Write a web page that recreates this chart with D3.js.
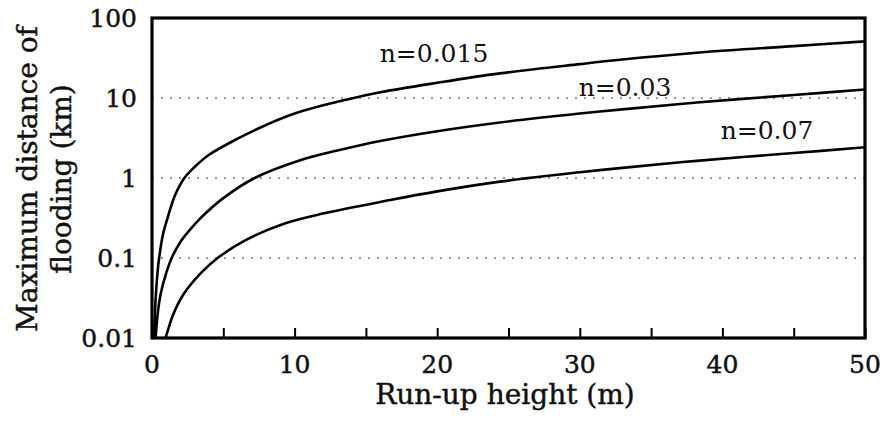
<!DOCTYPE html>
<html>
  <head>
    <meta charset="utf-8">
    <title>Flooding distance</title>
    <script src="https://cdn.jsdelivr.net/npm/d3@7"></script>
    <style>
      body { margin: 0; background: #fff; }
      svg text { font-family: "DejaVu Serif", serif; fill: #111; }
      .ax { stroke: #111; stroke-width: 0.45px; }
    </style>
  </head>
  <body>
    <div id="chart"></div>
    <script>
    // run-up height (m) -> max flooding distance (km)
    var h_015 = [0.15, 0.25, 0.4, 0.5, 0.75, 1.1, 1.6, 2.27, 3, 4, 6, 8, 10, 13.7, 16, 20, 24.4, 30, 32.8, 38.4, 45, 50];
    var d_015 = [0.01, 0.03, 0.07, 0.1, 0.19, 0.32, 0.6, 1.0, 1.38, 1.95, 3.1, 4.6, 6.4, 9.6, 11.8, 15.5, 20.3, 26.5, 30, 37, 44.5, 51];

    var h_03 = [0.25, 0.4, 0.6, 1, 1.38, 2, 2.7, 3.44, 5, 7.2, 10.45, 13, 16, 20, 24.4, 30, 32.8, 38.4, 45, 50];
    var d_03 = [0.01, 0.02, 0.035, 0.065, 0.1, 0.16, 0.23, 0.32, 0.56, 1.0, 1.68, 2.2, 2.9, 3.85, 4.95, 6.4, 7.15, 8.85, 10.9, 12.8];

    var h_07 = [0.95, 1.2, 1.5, 2.2, 3.44, 4.6, 6.5, 9.3, 12, 16.7, 20, 24.4, 30, 32.8, 38.4, 45, 50];
    var d_07 = [0.01, 0.014, 0.02, 0.035, 0.065, 0.1, 0.165, 0.27, 0.36, 0.53, 0.68, 0.9, 1.18, 1.33, 1.65, 2.05, 2.42];

    var curveLabels = ["n=0.015", "n=0.03", "n=0.07"];
    var xTicks = [0, 10, 20, 30, 40, 50];
    var xMinor = [5, 15, 25, 35, 45];
    var yTicks = [0.01, 0.1, 1, 10, 100];
    var yTickLabels = ["0.01", "0.1", "1", "10", "100"];
    var gridVals = [0.1, 1, 10];

    var W = 885, H = 423;
    var pL = 152, pR = 865, pT = 18, pB = 338;

    var svg = d3.select("#chart").append("svg")
      .attr("width", W).attr("height", H);

    var x = d3.scaleLinear().domain([0, 50]).range([pL, pR]);
    var y = d3.scaleLog().domain([0.01, 100]).range([pB, pT]);

    svg.append("clipPath").attr("id", "plotclip")
      .append("rect")
      .attr("x", pL).attr("y", pT)
      .attr("width", pR - pL).attr("height", pB - pT);

    // dotted gridlines
    svg.selectAll("line.grid").data(gridVals).enter().append("line")
      .attr("class", "grid")
      .attr("x1", pL).attr("x2", pR)
      .attr("y1", function(d) { return y(d); })
      .attr("y2", function(d) { return y(d); })
      .attr("stroke", "#777")
      .attr("stroke-width", 1.3)
      .attr("stroke-dasharray", "2,7");

    // curves
    var series = [
      h_015.map(function(v, i) { return [v, d_015[i]]; }),
      h_03.map(function(v, i) { return [v, d_03[i]]; }),
      h_07.map(function(v, i) { return [v, d_07[i]]; })
    ];
    var line = d3.line()
      .x(function(d) { return x(d[0]); })
      .y(function(d) { return y(d[1]); })
      .curve(d3.curveCatmullRom.alpha(0.5));

    svg.append("g").attr("clip-path", "url(#plotclip)")
      .selectAll("path").data(series).enter().append("path")
      .attr("d", line)
      .attr("fill", "none")
      .attr("stroke", "#000")
      .attr("stroke-width", 2.6);

    // bottom axis: ticks point inward
    var xAxis = d3.axisBottom(x).tickValues(xTicks.concat(xMinor)).tickSize(-10).tickFormat("");
    var gx = svg.append("g").attr("transform", "translate(0," + pB + ")").call(xAxis);
    gx.select(".domain").remove();
    gx.selectAll(".tick line").attr("stroke", "#000").attr("stroke-width", 2);

    svg.selectAll("text.xlab").data(xTicks).enter().append("text")
      .attr("class", "xlab ax")
      .attr("x", function(d) { return x(d); })
      .attr("y", 373)
      .attr("text-anchor", "middle")
      .style("font-size", "25px")
      .text(function(d) { return d; });

    svg.selectAll("text.ylab").data(yTicks).enter().append("text")
      .attr("class", "ylab ax")
      .attr("x", 137)
      .attr("y", function(d) { return y(d); })
      .attr("dy", "0.36em")
      .attr("text-anchor", "end")
      .style("font-size", "25px")
      .text(function(d, i) { return yTickLabels[i]; });

    // frame
    svg.append("rect")
      .attr("x", pL).attr("y", pT)
      .attr("width", pR - pL).attr("height", pB - pT)
      .attr("fill", "none")
      .attr("stroke", "#000")
      .attr("stroke-width", 3.2);

    // axis titles
    svg.append("text")
      .attr("class", "ax")
      .attr("x", 505).attr("y", 404)
      .attr("text-anchor", "middle")
      .style("font-size", "28px")
      .text("Run-up height (m)");

    var yt = svg.append("text")
      .attr("class", "ax")
      .attr("transform", "translate(37,179) rotate(-90)")
      .attr("text-anchor", "middle")
      .style("font-size", "28px");
    yt.append("tspan").attr("x", 0).attr("y", 0).text("Maximum distance of");
    yt.append("tspan").attr("x", 0).attr("y", 34).text("flooding (km)");

    // curve labels
    var labelPos = [[434, 62], [625, 96], [767, 139]];
    svg.selectAll("text.nlab").data(curveLabels).enter().append("text")
      .attr("class", "nlab")
      .attr("x", function(d, i) { return labelPos[i][0]; })
      .attr("y", function(d, i) { return labelPos[i][1]; })
      .attr("text-anchor", "middle")
      .style("font-size", "25px")
      .text(function(d) { return d; });
    </script>
  </body>
</html>
